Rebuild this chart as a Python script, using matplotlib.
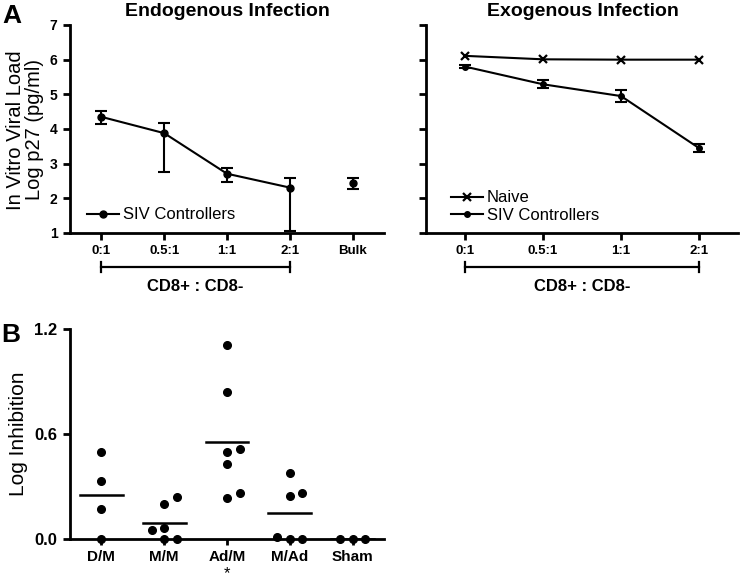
import matplotlib
matplotlib.use('Agg')
import matplotlib.pyplot as plt
import matplotlib.transforms as mtransforms
import numpy as np

plt.rcParams['font.family'] = ['Liberation Sans', 'DejaVu Sans']

# ---------------- data ----------------
ratio_labels = ['0:1', '0.5:1', '1:1', '2:1']
endo_labels = ['0:1', '0.5:1', '1:1', '2:1', 'Bulk']
endo_mean = [4.35, 3.88, 2.71, 2.31, 2.45]
endo_hi = [4.51, 4.16, 2.87, 2.59, 2.59]
endo_lo = [4.13, 2.77, 2.46, 1.07, 2.26]

exo_naive = [6.11, 6.01, 6.00, 6.00]
exo_siv = [5.80, 5.29, 4.95, 3.45]
exo_siv_err = [0.05, 0.11, 0.17, 0.11]

groups = ['D/M', 'M/M', 'Ad/M', 'M/Ad', 'Sham']
vals_dm = [0.50, 0.33, 0.17, 0.0]
vals_mm = [0.24, 0.20, 0.05, 0.065, 0.0, 0.0]
vals_adm = [1.11, 0.84, 0.495, 0.515, 0.43, 0.235, 0.265]
vals_mad = [0.375, 0.265, 0.245, 0.01, 0.0, 0.0]
vals_sham = [0.0, 0.0, 0.0]
group_vals = [vals_dm, vals_mm, vals_adm, vals_mad, vals_sham]

yticks_top = [1, 2, 3, 4, 5, 6, 7]
yticks_b = [0.0, 0.6, 1.2]

# ---------------- figure ----------------
W, H = 742, 582
fig = plt.figure(figsize=(W / 100, H / 100), dpi=100)

LW = 2.0


def style(ax, xfs, yfs):
    for s in ['top', 'right']:
        ax.spines[s].set_visible(False)
    for s in ['left', 'bottom']:
        ax.spines[s].set_linewidth(LW)
    ax.tick_params(width=LW, length=5, pad=4)
    ax.tick_params(axis='x', labelsize=xfs)
    ax.tick_params(axis='y', labelsize=yfs)
    for lab in ax.get_xticklabels() + ax.get_yticklabels():
        lab.set_fontweight('bold')


def bracket(ax, x0, x1, label):
    tr = mtransforms.blended_transform_factory(ax.transData, ax.transAxes)
    yb = -0.163
    ax.plot([x0, x1], [yb, yb], color='black', lw=1.6, transform=tr, clip_on=False)
    for xx in (x0, x1):
        ax.plot([xx, xx], [yb - 0.025, yb + 0.025], color='black', lw=1.6,
                transform=tr, clip_on=False)
    ax.text((x0 + x1) / 2, -0.255, label, transform=tr, ha='center', va='center',
            fontsize=12, fontweight='bold')


# Panel A left
ax1 = fig.add_axes([70 / W, 1 - 233 / H, 314 / W, 208 / H])
x_endo = np.arange(len(endo_labels))
mean = np.array(endo_mean)
yerr = np.array([mean - np.array(endo_lo), np.array(endo_hi) - mean])
ax1.errorbar(x_endo, mean, yerr=yerr, fmt='none', ecolor='black', elinewidth=1.5,
             capsize=4, capthick=1.5, clip_on=False, zorder=3)
n = len(ratio_labels)
line1, = ax1.plot(x_endo[:n], mean[:n], '-o', color='black', lw=1.5, ms=5,
                  label='SIV Controllers', clip_on=False, zorder=4)
ax1.plot(x_endo[n:], mean[n:], 'o', color='black', ms=5, clip_on=False, zorder=4)
ax1.set_xlim(-0.5, 4.5)
ax1.set_ylim(1, 7)
ax1.set_yticks(yticks_top)
ax1.set_xticks(x_endo)
ax1.set_xticklabels(endo_labels)
style(ax1, 9.5, 10)
bracket(ax1, 0, n - 1, 'CD8+ : CD8-')
ax1.legend(handles=[line1], loc='center left', bbox_to_anchor=(17 / 314, 0.087),
           frameon=False, fontsize=12, borderpad=0, borderaxespad=0,
           handlelength=1.9, handletextpad=0.25)

# Panel A right
ax2 = fig.add_axes([426 / W, 1 - 233 / H, 312 / W, 208 / H])
x_exo = np.arange(len(ratio_labels))
ln_naive, = ax2.plot(x_exo, exo_naive, '-x', color='black', lw=1.5, ms=6, mew=1.6,
                     label='Naive', clip_on=False, zorder=4)
ax2.errorbar(x_exo, exo_siv, yerr=exo_siv_err, fmt='none', ecolor='black',
             elinewidth=1.5, capsize=4, capthick=1.5, zorder=3)
ln_siv, = ax2.plot(x_exo, exo_siv, '-o', color='black', lw=1.5, ms=4,
                   label='SIV Controllers', clip_on=False, zorder=4)
ax2.set_xlim(-0.5, 3.5)
ax2.set_ylim(1, 7)
ax2.set_yticks(yticks_top)
ax2.set_yticklabels([])
ax2.set_xticks(x_exo)
ax2.set_xticklabels(ratio_labels)
style(ax2, 9.5, 10)
bracket(ax2, 0, n - 1, 'CD8+ : CD8-')
ax2.legend(handles=[ln_naive, ln_siv], loc='center left',
           bbox_to_anchor=(25 / 312, 0.127), frameon=False, fontsize=12,
           borderpad=0, borderaxespad=0, handlelength=1.9, handletextpad=0.25,
           labelspacing=0.15)

# Panel B
axb_w, axb_h = 314, 210
ax3 = fig.add_axes([70 / W, 1 - 539 / H, axb_w / W, axb_h / H])
xlim_b = (-0.5, 4.5)
ylim_b = (0.0, 1.2)
px_x = axb_w / (xlim_b[1] - xlim_b[0])
px_y = axb_h / (ylim_b[1] - ylim_b[0])
step = 0.2
for gi, vals in enumerate(group_vals):
    placed = []
    for v in sorted(vals):
        for k in [0, 1, -1, 2, -2, 3, -3]:
            xo = k * step
            ok = all(np.hypot((xo - px) * px_x, (v - py) * px_y) >= 10
                     for px, py in placed)
            if ok:
                placed.append((xo, v))
                break
    xs = [gi + p[0] for p in placed]
    ys = [p[1] for p in placed]
    ax3.plot(xs, ys, 'o', color='black', ms=5.5, clip_on=False, zorder=4)
    m = float(np.mean(vals))
    ax3.plot([gi - 0.34, gi + 0.34], [m, m], color='black', lw=1.8, zorder=3)
ax3.set_xlim(*xlim_b)
ax3.set_ylim(*ylim_b)
ax3.set_yticks(yticks_b)
ax3.set_yticklabels([f'{t:.1f}' for t in yticks_b])
ax3.set_xticks(np.arange(len(groups)))
ax3.set_xticklabels(groups)
style(ax3, 11, 12)
ax3.tick_params(axis='x', length=4, pad=4)
trb = mtransforms.blended_transform_factory(ax3.transData, ax3.transAxes)
ax3.text(2, -42 / axb_h, '*', transform=trb, ha='center', va='bottom', fontsize=12)

# Texts
fig.text(227 / W, 1 - 16 / H, 'Endogenous Infection', ha='center', va='baseline',
         fontsize=14, fontweight='bold')
fig.text(583 / W, 1 - 16 / H, 'Exogenous Infection', ha='center', va='baseline',
         fontsize=14, fontweight='bold')
fig.text(2 / W, 1 - 23 / H, 'A', ha='left', va='baseline', fontsize=19,
         fontweight='bold')
fig.text(1 / W, 1 - 342 / H, 'B', ha='left', va='baseline', fontsize=19,
         fontweight='bold')
fig.text(25 / W, 1 - 130 / H, 'In Vitro Viral Load\nLog p27 (pg/ml)', rotation=90,
         ha='center', va='center', fontsize=14.5, multialignment='center',
         linespacing=0.95)
fig.text(19 / W, 1 - 434 / H, 'Log Inhibition', rotation=90, ha='center',
         va='center', fontsize=15)

fig.savefig('out.png', dpi=100)
